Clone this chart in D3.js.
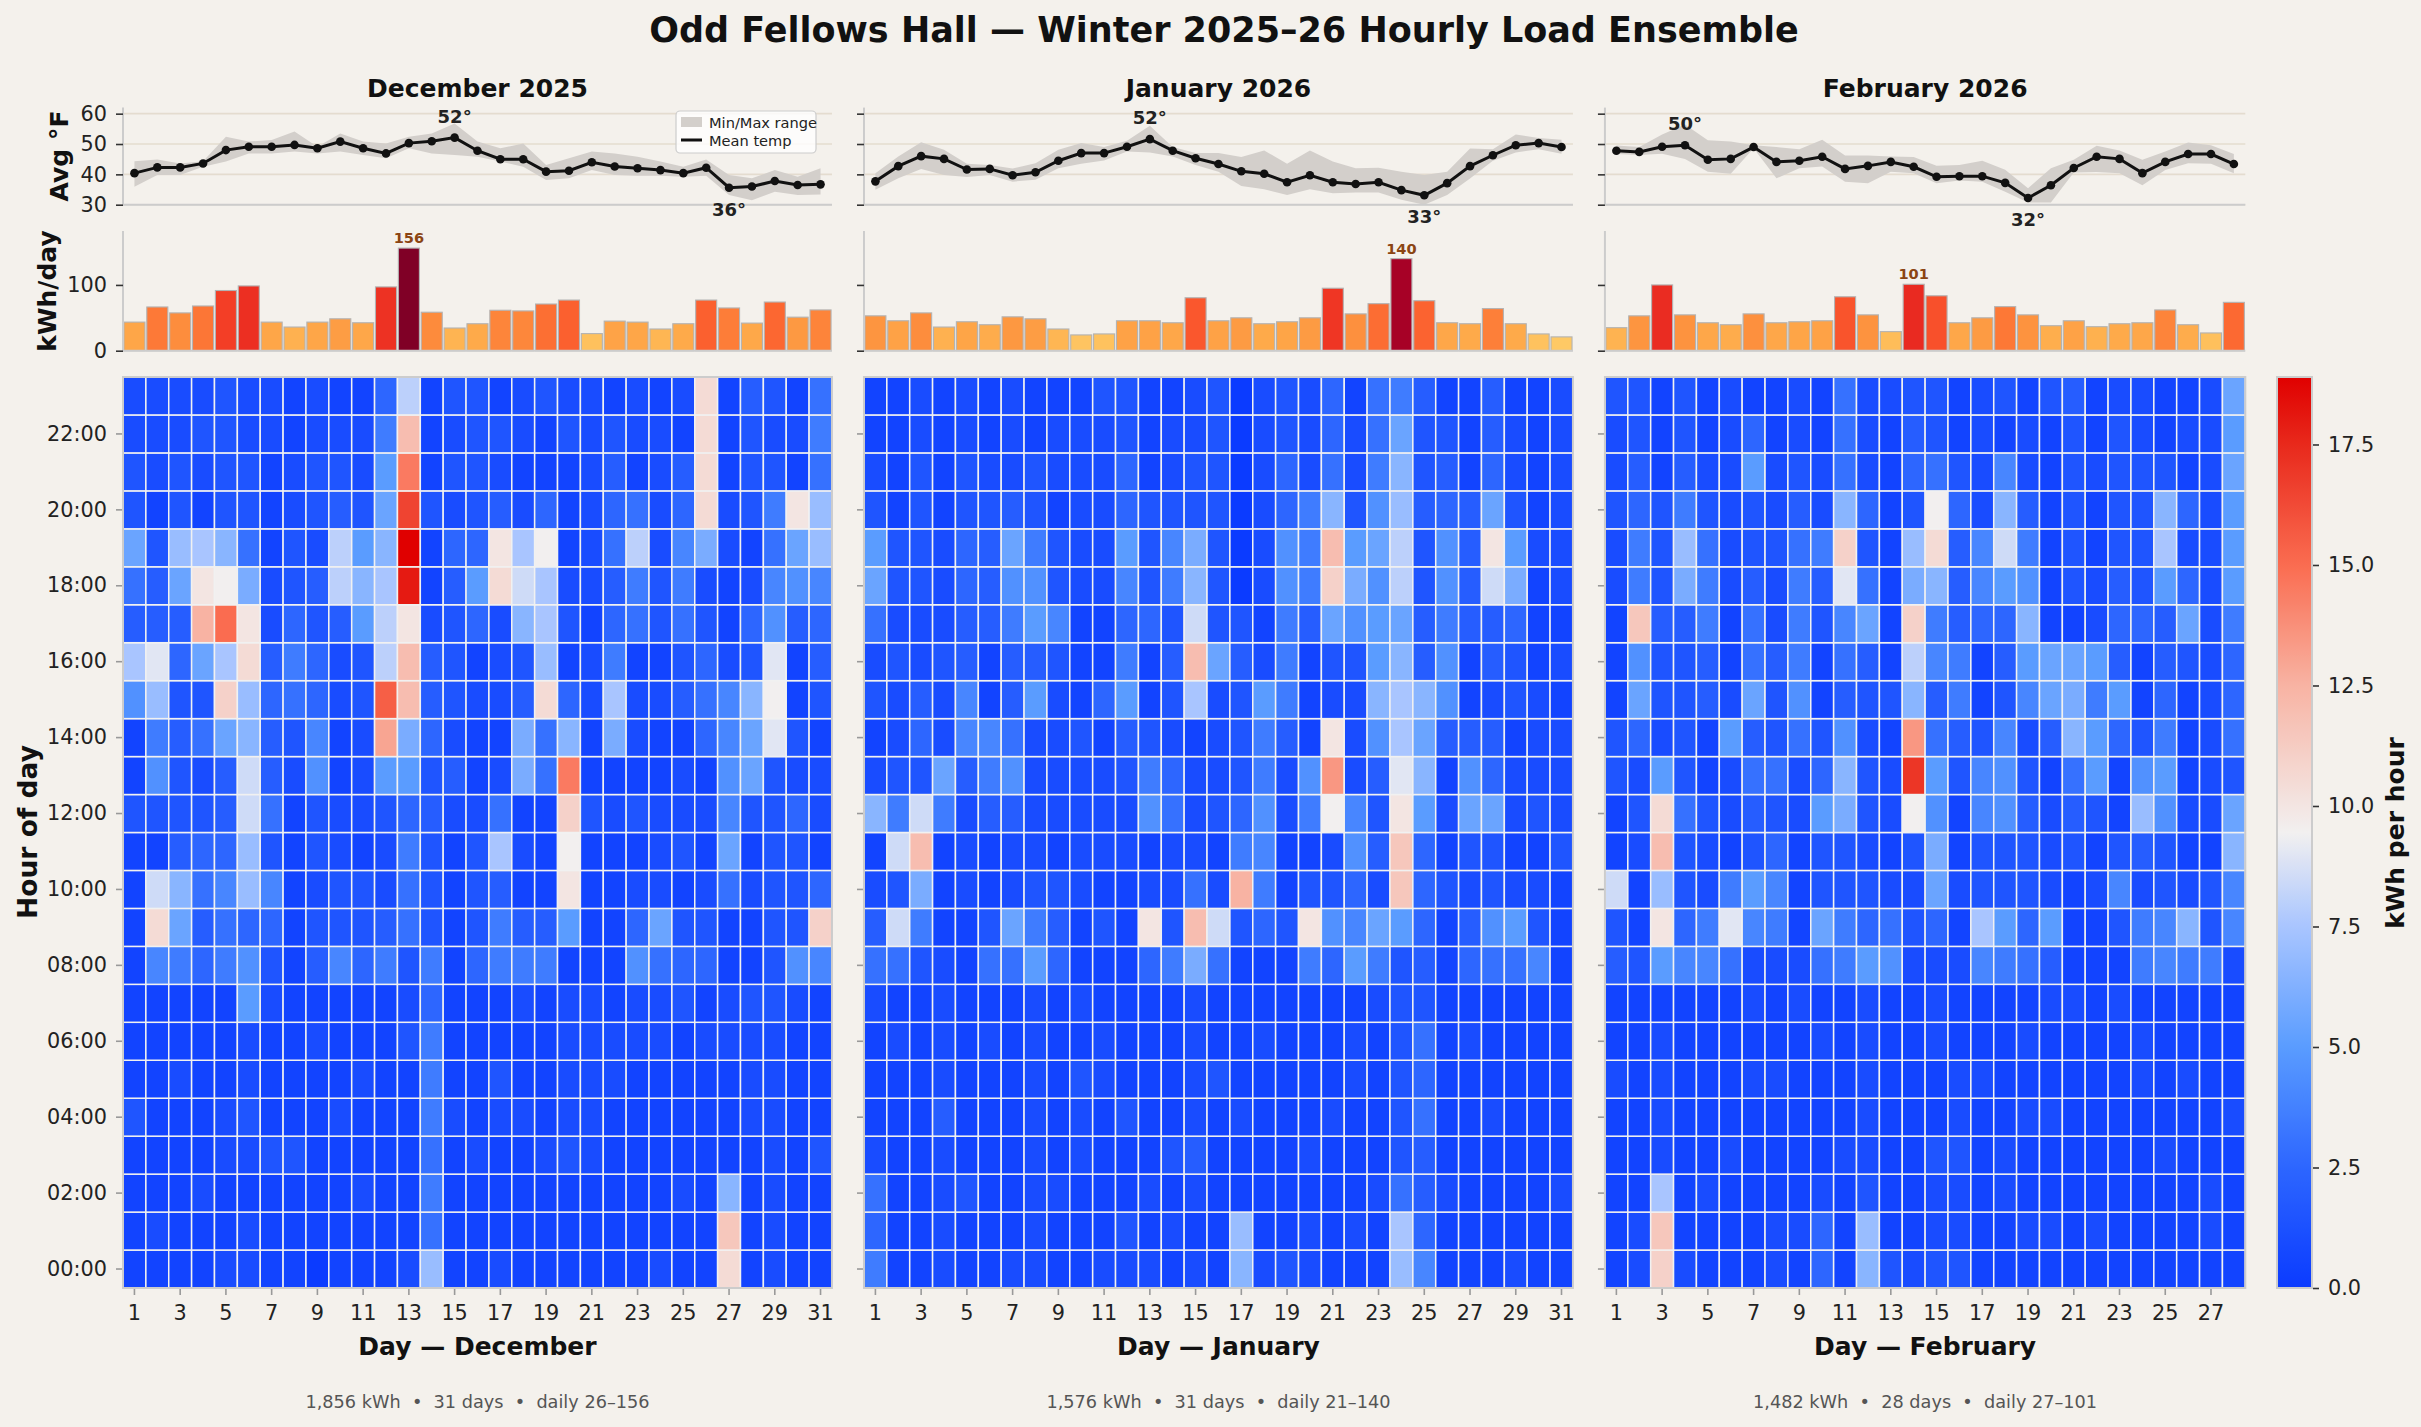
<!DOCTYPE html>
<html><head><meta charset="utf-8">
<script src="https://cdn.jsdelivr.net/npm/d3@7"></script>
<style>
html,body{margin:0;padding:0;background:#f4f1ec;}
svg{display:block;font-family:"DejaVu Sans",sans-serif;}
</style></head><body>
<svg id="chart" width="2421" height="1427"></svg>
<script>
// ---------------- DATA ----------------
const chartTitle = "Odd Fellows Hall — Winter 2025–26 Hourly Load Ensemble";
const monthTitles = ["December 2025", "January 2026", "February 2026"];
const monthLabels = ["December", "January", "February"];

// Daily mean / min / max temperature (°F)
const decTempMean = [40.4,42.3,42.3,43.6,48.0,49.1,49.1,49.7,48.6,50.8,48.6,46.9,50.3,50.9,52.1,47.8,45.0,45.0,40.9,41.2,44.0,42.6,42.0,41.4,40.4,42.2,35.6,36.0,37.8,36.5,36.7];
const decTempMax  = [44.3,44.9,43.6,44.3,52.4,50.8,51.3,54.1,49.1,53.5,50.8,50.2,52.4,53.5,56.8,50.8,48.6,50.2,43.1,45.3,47.5,46.9,45.8,44.2,42.5,44.9,39.8,38.7,41.4,39.2,42.0];
const decTempMin  = [35.9,39.8,39.8,42.5,44.2,46.9,46.9,47.5,46.9,47.5,46.4,45.3,48.6,46.9,46.4,45.8,44.2,42.5,38.1,38.7,41.4,39.8,39.5,39.5,39.2,39.5,33.2,31.5,34.3,33.2,33.4];
const janTempMean = [37.7,42.7,46.0,45.1,41.6,41.8,39.7,40.7,44.5,47.0,47.0,49.1,51.6,47.8,45.3,43.4,41.0,40.2,37.4,39.7,37.4,36.8,37.4,34.8,33.1,37.1,42.7,46.3,49.6,50.3,49.0];
const janTempMax  = [40.4,45.9,50.6,48.1,43.5,43.1,41.9,43.7,48.1,50.3,49.0,51.1,56.0,49.0,47.0,47.0,45.7,47.9,43.5,47.9,44.2,42.0,42.2,40.9,39.8,40.9,48.5,48.3,53.1,52.0,51.4];
const janTempMin  = [34.9,38.7,41.8,39.8,39.1,39.8,37.6,38.2,42.0,43.5,44.6,47.5,47.2,45.9,43.1,40.9,36.2,35.1,33.2,35.1,33.8,34.0,34.0,31.6,30.0,33.2,38.6,44.5,47.2,48.3,46.8];
const febTempMean = [47.8,47.4,49.1,49.6,44.8,45.1,49.0,44.1,44.5,45.8,41.8,42.8,44.1,42.5,39.2,39.4,39.4,37.2,32.2,36.4,42.1,45.8,45.1,40.4,44.1,46.7,46.7,43.4];
const febTempMax  = [49.5,49.0,53.1,56.4,51.2,50.8,49.6,49.0,48.3,51.4,46.2,46.2,45.9,45.7,42.8,43.1,44.5,41.5,35.4,42.0,44.8,49.4,47.9,44.8,47.5,50.5,49.6,46.7];
const febTempMin  = [46.7,46.4,46.8,45.1,40.9,40.2,48.6,38.7,42.0,42.6,37.6,37.1,40.9,40.4,37.1,38.0,37.6,34.3,30.7,30.7,40.6,40.8,40.4,36.4,41.4,43.7,43.5,40.4];

// Daily energy (kWh/day)
const decDaily = [43.5,66.5,57.5,68,91.5,98.5,43.5,36,43.5,48.5,42.5,97,156,58.5,34.5,41,61.5,60.5,71,77,26,45,43.5,33,41,77,65,42,74,51,62];
const janDaily = [53,45.5,57.5,36,44,39.5,51.5,48.5,33,24,25.5,45.5,45.5,42.5,80.5,45.5,50,41,44,50,95,56,71.5,140,76,42.5,41,64,41,25.5,21];
const febDaily = [35,53,100,54.5,42.5,39.5,56,42.5,44,45.5,82,54.5,29,101,83.5,42.5,50,67,54.5,38,45.5,36.5,41,42.5,62,39.5,27,73.5];

// Hourly kWh, one string per hour (00:00 first), one character per day.
// Character code: position in HOUR_CODE × 0.5 kWh ('0'=0, '2'=1, 'a'=5, 'k'=10, 'u'=15, 'C'=19)
const HOUR_CODE = "0123456789abcdefghijklmnopqrstuvwxyzABC";
const decHourly = [
 "1111221101 112e112111 111211l121 1",
 "1211121111 1116111111 111111n121 1",
 "1112111111 2117111111 111121d121 1",
 "1111223311 1116121123 2111111121 3",
 "3111231112 1117212212 2111111221 1",
 "1121121111 2117113112 2211111221 1",
 "1111121121 1137111112 2222122221 1",
 "11111a2111 1125111212 2122312332 1",
 "1875793148 5737157771 1196551139 8",
 "1lb4655133 346313744a 115b331133 m",
 "1hd68e8123 326313411k 1122126233 5",
 "11455e3132 127313f21j 111231b133 1",
 "33334h6132 235422611m 3232228335 2",
 "19324h4291 2aa3412c6t 1111219b32 2",
 "1746bd4381 2qc5211c6d 1c21158bi3 1",
 "9e33me5652 3vo43224l5 2f22468dj1 3",
 "fi5bfl4752 3go43123e1 27113523i1 4",
 "444puk2534 agk2352df3 1563631594 5",
 "64bkjc234g dfA14alhf2 2473721289 8",
 "b3efd6132g adC155kfj1 26g28c216b e",
 "3131331234 3bx3234251 25625l237k e",
 "3232331233 2at1332111 24124l1331 6",
 "2223322122 27o1233213 23221l1322 7",
 "2222322121 15g1331232 21212l1431 6"
];
const janHourly = [
 "7112112211 222121d232 111e811121 1",
 "5112111211 131211e112 121f511111 1",
 "6112311221 1121211111 1126421111 2",
 "2112111212 1113411112 1113411111 1",
 "1114111212 1311212111 2113611211 1",
 "1112111213 2111231111 1213511111 1",
 "1212121211 2111211211 1213612111 1",
 "2112111212 1111211111 1123311111 1",
 "6632166a51 1157c61117 5a73415668 1",
 "4h7113b741 31k3oh353k 98ba5149a3 1",
 "23c1212332 112262p713 352n532322 1",
 "1ho1212212 2212217811 294n513311 3",
 "d7h7244222 2296235927 j83ka2bb23 2",
 "233b479222 2375223729 r24id19522 2",
 "1252886223 1432123741 k29fb44412 2",
 "3242814a21 5a13f23a71 22dfd91232 1",
 "2323414431 1714ob4271 33ad491431 2",
 "6222447a81 1553h33174 b9ab474451 1",
 "b332549932 2837d30297 mc9g394hc1 2",
 "a33254b732 2a38c30297 oabg394ka2 2",
 "3131334312 2533330257 d39e454b31 2",
 "2131322322 2512330252 627d341521 2",
 "1121212122 2312230232 526b331421 2",
 "1121212111 3311230232 5167411411 2"
];
const febHourly = [
 "12m2111215 1d32331111 11111111",
 "12n1111225 1e11221122 12111121",
 "11f1211112 1311221211 11111121",
 "1121121111 2211331211 11112111",
 "1121111111 1211121122 11111112",
 "2121112211 1211122111 11121211",
 "1121111112 1211211121 11121111",
 "1111112121 1211211112 21211111",
 "43a8862226 7a92228764 11178772",
 "31k57i871b 756351fa5a 11378d38",
 "h1e327a813 3322b23332 12823238",
 "12o3213513 3213c13332 3134311d",
 "13l632432a c32j918942 431e922b",
 "32a3126625 d32ya38931 6a19a123",
 "35231a4363 921r643824 da537126",
 "1b3342b391 433d47138b c7a15125",
 "1933416471 641g8714ab ba414325",
 "1n44716273 8b1m7455d1 12554b27",
 "273c724274 i61cd48a91 3243a52a",
 "273e623367 m31el48h71 3133f22a",
 "3537323242 d513j52d41 3133d52a",
 "241422a232 6215632821 3233312b",
 "2313125121 6214312121 3132122a",
 "3313121121 6223312313 4122112b"
];

// Axis ticks
const tempTicks = [30, 40, 50, 60];
const barTicks = [0, 100];
const hourTicks = [0,2,4,6,8,10,12,14,16,18,20,22];
const cbarTicks = [0, 2.5, 5, 7.5, 10, 12.5, 15, 17.5];
const legendLabels = ["Min/Max range", "Mean temp"];

// Colour map (kWh per hour)
const heatMax = 18.9;
const cmapStops  = [0, 2.5, 5, 7.5, 9.45, 12.5, 15, 17.5, 18.9];
const cmapColors = ["#0b3bff","#2d66ff","#5a9cff","#a9c5ff","#f2f0f0","#f8b3a3","#fa6c50","#e8291c","#e00000"];

// ---------------- LAYOUT ----------------
const W = 2421, H = 1427;
const LEFT = 123, DAY_W = 22.87, GAP = 32;
const T_TOP = 107.6, T_BOT = 204.7;
const B_TOP = 231, B_BOT = 350.7;
const H_TOP = 377, H_BOT = 1288;
const FONT = "DejaVu Sans";
const BG = "#f4f1ec";
const BAND = "#d3cfcb";

const decodeRow = s => s.replace(/ /g, "").split("").map(c => HOUR_CODE.indexOf(c) * 0.5);

const months = [
  {title: monthTitles[0], label: monthLabels[0], mean: decTempMean, tmax: decTempMax, tmin: decTempMin, daily: decDaily, hourly: decHourly.map(decodeRow)},
  {title: monthTitles[1], label: monthLabels[1], mean: janTempMean, tmax: janTempMax, tmin: janTempMin, daily: janDaily, hourly: janHourly.map(decodeRow)},
  {title: monthTitles[2], label: monthLabels[2], mean: febTempMean, tmax: febTempMax, tmin: febTempMin, daily: febDaily, hourly: febHourly.map(decodeRow)}
];

const allDaily = months.flatMap(m => m.daily);
const dMin = d3.min(allDaily), dMax = d3.max(allDaily);
const barColor = v => d3.interpolateYlOrRd(0.3 + 0.7 * (v - dMin) / (dMax - dMin));
const heatColor = d3.scaleLinear().domain(cmapStops).range(cmapColors).interpolate(d3.interpolateRgb).clamp(true);

const yT = d3.scaleLinear().domain([30, 62]).range([T_BOT, T_TOP]);
const yB = d3.scaleLinear().domain([0, 182]).range([B_BOT, B_TOP]);
const yH = d3.scaleBand().domain(d3.range(23, -1, -1)).range([H_TOP, H_BOT]);

const svg = d3.select("#chart");
svg.append("rect").attr("width", W).attr("height", H).attr("fill", BG);

svg.append("text").attr("x", 1224).attr("y", 42).attr("text-anchor", "middle")
  .attr("font-family", FONT).attr("font-weight", "bold").attr("font-size", 35).attr("fill", "#111")
  .text(chartTitle);

function styleAxis(g, fs, tickColor) {
  g.attr("font-family", FONT).attr("font-size", fs);
  g.select(".domain").remove();
  g.selectAll(".tick line").attr("stroke", tickColor).attr("stroke-width", 1.6);
  g.selectAll(".tick text").attr("fill", "#222");
}

let cursor = LEFT;
months.forEach((m, mi) => {
  const n = m.daily.length;
  const days = d3.range(1, n + 1);
  const x0 = cursor, x1 = cursor + n * DAY_W;
  cursor = x1 + GAP;
  const cx = (x0 + x1) / 2;
  const xBand = d3.scaleBand().domain(days).range([x0, x1]);
  const xC = d => xBand(d) + xBand.bandwidth() / 2;
  const first = mi === 0;

  // Month title
  svg.append("text").attr("x", cx).attr("y", 96.5).attr("text-anchor", "middle")
    .attr("font-family", FONT).attr("font-weight", "bold").attr("font-size", 25).attr("fill", "#111")
    .text(m.title);

  // ---- Temperature panel ----
  const gt = svg.append("g");
  tempTicks.forEach(v => {
    gt.append("line").attr("x1", x0).attr("x2", x1).attr("y1", yT(v)).attr("y2", yT(v))
      .attr("stroke", "#e4dccf").attr("stroke-width", 1.6);
  });
  const area = d3.area().x((d, i) => xC(i + 1)).y0((d, i) => yT(m.tmin[i])).y1((d, i) => yT(m.tmax[i]));
  gt.append("path").datum(m.mean).attr("d", area).attr("fill", BAND);
  const line = d3.line().x((d, i) => xC(i + 1)).y(d => yT(d));
  gt.append("path").datum(m.mean).attr("d", line).attr("fill", "none").attr("stroke", "#111").attr("stroke-width", 3);
  gt.selectAll("circle").data(m.mean).join("circle")
    .attr("cx", (d, i) => xC(i + 1)).attr("cy", d => yT(d)).attr("r", 4.3).attr("fill", "#111");
  // spines
  gt.append("line").attr("x1", x0).attr("x2", x0).attr("y1", T_TOP).attr("y2", T_BOT).attr("stroke", "#cccccc").attr("stroke-width", 2);
  gt.append("line").attr("x1", x0).attr("x2", x1).attr("y1", T_BOT).attr("y2", T_BOT).attr("stroke", "#cccccc").attr("stroke-width", 2);
  const axT = gt.append("g").attr("transform", `translate(${x0},0)`)
    .call(d3.axisLeft(yT).tickValues(tempTicks).tickSize(7).tickPadding(9).tickFormat(first ? d3.format("d") : () => ""));
  styleAxis(axT, 20.8, "#333");
  // annotations
  const iMax = d3.maxIndex(m.mean), iMin = d3.minIndex(m.mean);
  gt.append("text").attr("x", xC(iMax + 1)).attr("y", yT(m.mean[iMax]) - 15).attr("text-anchor", "middle")
    .attr("font-family", FONT).attr("font-weight", "bold").attr("font-size", 18).attr("fill", "#222")
    .text(Math.round(m.mean[iMax]) + "°");
  gt.append("text").attr("x", xC(iMin + 1)).attr("y", yT(m.mean[iMin]) + 28).attr("text-anchor", "middle")
    .attr("font-family", FONT).attr("font-weight", "bold").attr("font-size", 18).attr("fill", "#222")
    .text(Math.round(m.mean[iMin]) + "°");

  if (first) {
    const lg = gt.append("g");
    lg.append("rect").attr("x", 676).attr("y", 111).attr("width", 140).attr("height", 42).attr("rx", 4)
      .attr("fill", "#ffffff").attr("fill-opacity", 0.8).attr("stroke", "#cccccc").attr("stroke-width", 1.2);
    lg.append("rect").attr("x", 681).attr("y", 117).attr("width", 21).attr("height", 10).attr("fill", BAND);
    lg.append("line").attr("x1", 681).attr("x2", 702).attr("y1", 140).attr("y2", 140).attr("stroke", "#111").attr("stroke-width", 3);
    lg.selectAll("text.lg").data(legendLabels).join("text").attr("class", "lg")
      .attr("x", 709).attr("y", (d, i) => i === 0 ? 122.3 : 140).attr("dominant-baseline", "central")
      .attr("font-family", FONT).attr("font-size", 14.6).attr("fill", "#222").text(d => d);
  }

  // ---- Daily bars ----
  const gb = svg.append("g");
  const xBar = d3.scaleBand().domain(days).range([x0, x1]).paddingInner(0.08).paddingOuter(0.04);
  gb.selectAll("rect").data(m.daily).join("rect")
    .attr("x", (d, i) => xBar(i + 1)).attr("width", xBar.bandwidth())
    .attr("y", d => yB(d)).attr("height", d => yB(0) - yB(d))
    .attr("fill", d => barColor(d)).attr("stroke", "#b3b3b3").attr("stroke-width", 1.1);
  gb.append("line").attr("x1", x0).attr("x2", x0).attr("y1", B_TOP).attr("y2", B_BOT).attr("stroke", "#cccccc").attr("stroke-width", 2);
  gb.append("line").attr("x1", x0).attr("x2", x1).attr("y1", B_BOT).attr("y2", B_BOT).attr("stroke", "#cccccc").attr("stroke-width", 2);
  const axB = gb.append("g").attr("transform", `translate(${x0},0)`)
    .call(d3.axisLeft(yB).tickValues(barTicks).tickSize(7).tickPadding(9).tickFormat(first ? d3.format("d") : () => ""));
  styleAxis(axB, 20.8, "#333");
  const bMax = d3.maxIndex(m.daily);
  gb.append("text").attr("x", xBar(bMax + 1) + xBar.bandwidth() / 2).attr("y", yB(m.daily[bMax]) - 5)
    .attr("text-anchor", "middle").attr("font-family", FONT).attr("font-weight", "bold").attr("font-size", 14.6)
    .attr("fill", "#8b4513").text(Math.round(m.daily[bMax]));

  // ---- Heatmap ----
  const gh = svg.append("g");
  const cells = [];
  m.hourly.forEach((row, h) => row.forEach((v, di) => cells.push({h, d: di + 1, v})));
  gh.selectAll("rect.cell").data(cells).join("rect").attr("class", "cell")
    .attr("x", c => xBand(c.d)).attr("y", c => yH(c.h))
    .attr("width", xBand.bandwidth()).attr("height", yH.bandwidth())
    .attr("fill", c => heatColor(c.v)).attr("stroke", "#f1f1f1").attr("stroke-width", 1.5);
  gh.append("rect").attr("x", x0).attr("y", H_TOP).attr("width", x1 - x0).attr("height", H_BOT - H_TOP)
    .attr("fill", "none").attr("stroke", "#cccccc").attr("stroke-width", 2);
  const axHY = gh.append("g").attr("transform", `translate(${x0 - 1},0)`)
    .call(d3.axisLeft(yH).tickValues(hourTicks).tickSize(6).tickPadding(9)
      .tickFormat(first ? (h => String(h).padStart(2, "0") + ":00") : () => ""));
  styleAxis(axHY, 20.8, "#999");
  const axHX = gh.append("g").attr("transform", `translate(0,${H_BOT + 1})`)
    .call(d3.axisBottom(xBand).tickValues(days.filter(d => d % 2 === 1)).tickSize(6).tickPadding(10));
  styleAxis(axHX, 20.8, "#999");

  svg.append("text").attr("x", cx).attr("y", 1355).attr("text-anchor", "middle")
    .attr("font-family", FONT).attr("font-weight", "bold").attr("font-size", 25).attr("fill", "#111")
    .text("Day — " + m.label);

  const total = d3.sum(m.daily);
  const footer = `${d3.format(",")(Math.round(total))} kWh  •  ${n} days  •  daily ${Math.round(d3.min(m.daily))}–${Math.round(d3.max(m.daily))}`;
  svg.append("text").attr("x", cx).attr("y", 1408).attr("text-anchor", "middle").style("white-space", "pre")
    .attr("font-family", FONT).attr("font-size", 17.7).attr("fill", "#555").text(footer);
});

// Y labels
function vLabel(x, y, txt, fs) {
  svg.append("text").attr("transform", `translate(${x},${y}) rotate(-90)`).attr("text-anchor", "middle")
    .attr("dominant-baseline", "central").attr("font-family", FONT).attr("font-weight", "bold")
    .attr("font-size", fs).attr("fill", "#111").text(txt);
}
vLabel(59, 156, "Avg °F", 25);
vLabel(47, 291, "kWh/day", 25);
vLabel(27, 832, "Hour of day", 26.5);

// ---- Colorbar ----
const CB_X = 2277, CB_W = 35;
const defs = svg.append("defs");
const grad = defs.append("linearGradient").attr("id", "cbgrad").attr("x1", 0).attr("y1", 1).attr("x2", 0).attr("y2", 0);
d3.range(0, 101).forEach(k => {
  const v = heatMax * k / 100;
  grad.append("stop").attr("offset", k + "%").attr("stop-color", heatColor(v));
});
const yC = d3.scaleLinear().domain([0, heatMax]).range([H_BOT, H_TOP]);
svg.append("rect").attr("x", CB_X).attr("y", H_TOP).attr("width", CB_W).attr("height", H_BOT - H_TOP)
  .attr("fill", "url(#cbgrad)").attr("stroke", "#cccccc").attr("stroke-width", 2);
const axC = svg.append("g").attr("transform", `translate(${CB_X + CB_W + 1},0)`)
  .call(d3.axisRight(yC).tickValues(cbarTicks).tickSize(6).tickPadding(9).tickFormat(d3.format(".1f")));
styleAxis(axC, 20.8, "#333");
vLabel(2395, 833, "kWh per hour", 25);
</script></body></html>
